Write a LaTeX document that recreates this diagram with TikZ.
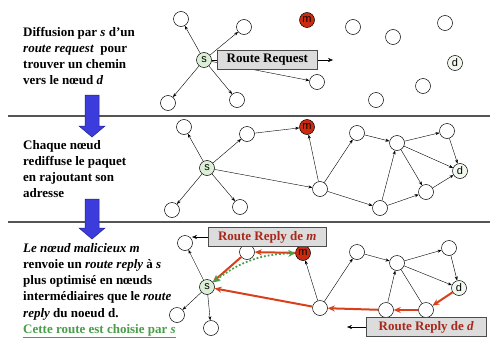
\documentclass[tikz,border=0pt]{standalone}
\usepackage{fontspec}
\setmainfont{Liberation Serif}
\setsansfont{Liberation Sans}
\usetikzlibrary{arrows.meta,calc}
\definecolor{nodered}{HTML}{CC2A10}
\definecolor{sgreen}{HTML}{DCEFD6}
\definecolor{boxfill}{HTML}{DCDCDC}
\definecolor{redtext}{HTML}{A8281C}
\definecolor{redarrow}{HTML}{D8401C}
\definecolor{greentext}{HTML}{4A9E4A}
\definecolor{bluefill}{HTML}{3C3CDC}
\definecolor{blueline}{HTML}{20208A}
\definecolor{sepgray}{HTML}{555555}
\tikzset{
  nd/.style={circle,draw=black,fill=white,minimum size=15pt,inner sep=0pt,line width=0.5pt,font=\sffamily\fontsize{11}{11}\selectfont},
  snd/.style={nd,fill=sgreen},
  mnd/.style={nd,fill=nodered},
  dnd/.style={nd,fill=sgreen!40},
  ed/.style={-{Stealth[length=4pt,width=3pt]},line width=0.4pt,black},
  pl/.style={line width=0.4pt,black},
  red/.style={-{Stealth[length=7pt,width=6pt]},line width=2pt,redarrow},
  lbox/.style={draw=black!70,fill=boxfill,line width=0.6pt,inner xsep=3pt,minimum height=19pt,font=\bfseries\fontsize{13}{14}\selectfont},
  txt/.style={anchor=north west,inner sep=0pt,align=left,font=\bfseries\fontsize{13}{16.2}\selectfont},
  sep/.style={line width=1.2pt,sepgray},
  bluearr/.style={fill=bluefill,draw=blueline,line width=0.5pt}
}
\begin{document}
\begin{tikzpicture}[x=1pt,y=-1pt]
\useasboundingbox (0,0) rectangle (500,348);
\fill[white] (0,0) rectangle (500,348);

% separators
\draw[sep] (8,116) coordinate (sa) -- (490,116) coordinate (sb);
\draw[sep] (8,222) coordinate (sc) -- (490,222) coordinate (sd);

% blue arrows
\draw[bluearr] (85,95) -- (99,95) -- (99,126) -- (105,126) -- (92,137) -- (79,126) -- (85,126) -- cycle;
\draw[bluearr] (85,199) -- (99,199) -- (99,228) -- (105,228) -- (92,239) -- (79,228) -- (85,228) -- cycle;

% texts
\node[txt] (t1) at (23,27) {Diffusion par \textit{s} d'un\\\textit{route request}\ \ pour\\trouver un chemin\\vers le nœud \textit{d}};
\node[txt] (t2) at (23,140) {Chaque nœud\\rediffuse le paquet\\en rajoutant son\\adresse};
\node[txt] (t3) at (23,243) {\textit{Le nœud malicieux m}\\renvoie un \textit{route reply} à \textit{s}\\plus optimisé en nœuds\\intermédiaires que le \textit{route}\\\textit{reply} du noeud d.\\\textcolor{greentext}{\underline{Cette route est choisie par \textit{s}}}};

% ---------- panel 1 ----------
\node[snd] (s1) at (204,60) {s};
\node[nd] (a1) at (181,19) {};
\node[nd] (b1) at (244,27) {};
\node[nd] (c1) at (168,103) {};
\node[nd] (e1) at (237,100) {};
\node[mnd] (m1) at (307,20) {m};
\node[nd] (f1) at (353,27) {};
\node[nd] (g1) at (393,37) {};
\node[nd] (h1) at (445,23) {};
\node[dnd] (d1) at (455,63) {d};
\node[nd] (i1) at (317,82) {};
\node[nd] (j1) at (423,86) {};
\node[nd] (k1) at (376,100) {};
\draw[ed] (s1) -- (a1);
\draw[ed] (s1) -- (b1);
\draw[ed] (s1) -- (c1);
\draw[ed] (s1) -- (e1);
\draw[ed] (s1) -- (i1);
\node[lbox,anchor=west,minimum width=100pt] (rr) at (217,60) {Route Request};
\coordinate (rrt) at (333,60);
\draw[pl] (s1) -- (rr);
\draw[ed,-{Stealth[length=5pt,width=4pt]}] (rr) -- (rrt);

% ---------- panel 2 ----------
\node[snd] (s2) at (207,168) {s};
\node[nd] (a2) at (184,127) {};
\node[nd] (b2) at (247,134) {};
\node[mnd] (m2) at (307,127) {m};
\node[nd] (c2) at (172,210) {};
\node[nd] (e2) at (240,207) {};
\node[nd] (i2) at (320,189) {};
\node[nd] (f2) at (357,133) {};
\node[nd] (g2) at (397,143) {};
\node[nd] (h2) at (447,131) {};
\node[dnd] (d2) at (460,171) {d};
\node[nd] (j2) at (426,192) {};
\node[nd] (k2) at (380,208) {};
\draw[ed] (s2) -- (a2);
\draw[ed] (s2) -- (b2);
\draw[ed] (s2) -- (c2);
\draw[ed] (s2) -- (e2);
\draw[ed] (s2) -- (i2);
\draw[ed] (b2) -- (m2);
\draw[ed] (i2) -- (m2);
\draw[ed] (i2) -- (f2);
\draw[ed] (i2) -- (k2);
\draw[ed] (f2) -- (g2);
\draw[ed] (g2) -- (h2);
\draw[ed] (g2) -- (d2);
\draw[ed] (g2) -- (j2);
\draw[ed] (h2) -- (d2);
\draw[ed] (k2) -- (g2);
\draw[ed] (k2) -- (j2);
\draw[ed] (j2) -- (d2);

% ---------- panel 3 ----------
\node[snd] (s3) at (207,287) {s};
\node[nd] (a3) at (185,243) {};
\node[nd] (b3) at (247,252) {};
\node[mnd] (m3) at (303,253) {m};
\node[nd] (c3) at (177,315) {};
\node[nd] (e3) at (211,328) {};
\node[nd] (i3) at (320,308) {};
\node[nd] (f3) at (357,252) {};
\node[nd] (g3) at (397,263) {};
\node[nd] (h3) at (449,248) {};
\node[dnd] (d3) at (459,288) {d};
\node[nd] (j3) at (426,310) {};
\node[nd] (k3) at (386,310) {};
\draw[ed] (s3) -- (a3);
\draw[ed] (s3) -- (c3);
\draw[ed] (s3) -- (e3);
\draw[ed] (i3) -- (m3);
\draw[ed] (i3) -- (f3);
\draw[ed] (f3) -- (g3);
\draw[ed] (g3) -- (h3);
\draw[ed] (h3) -- (d3);
\draw[ed] (g3) -- (d3);
\draw[pl] (g3) -- (j3);
\draw[ed] (k3) -- (g3);
% red reply paths
\draw[red] (m3) -- (b3);
\draw[red] (b3) -- (s3);
\draw[red] (i3) -- (s3);
\draw[red] (k3) -- (i3);
\draw[red] (j3) -- (k3);
\draw[red] (d3) -- (j3);
% green dotted
\draw[greentext,line width=1.8pt,dotted,{Stealth[length=7pt,width=7pt,fill=greentext]}-{Stealth[length=7pt,width=7pt,fill=greentext]}] (s3) to[bend left=18] (m3);
% reply boxes
\node[lbox,anchor=west,text=redtext,minimum width=118pt] (rm) at (208,237) {Route Reply de \textit{m}};
\coordinate (rmt) at (192,237);
\draw[ed,-{Stealth[length=5pt,width=4pt]}] (rm) -- (rmt);
\node[lbox,anchor=west,text=redtext,minimum width=120pt] (rd) at (366,327) {Route Reply de \textit{d}};
\coordinate (rdt) at (347,327);
\draw[ed,-{Stealth[length=5pt,width=4pt]}] (rd) -- (rdt);
\end{tikzpicture}
\end{document}
